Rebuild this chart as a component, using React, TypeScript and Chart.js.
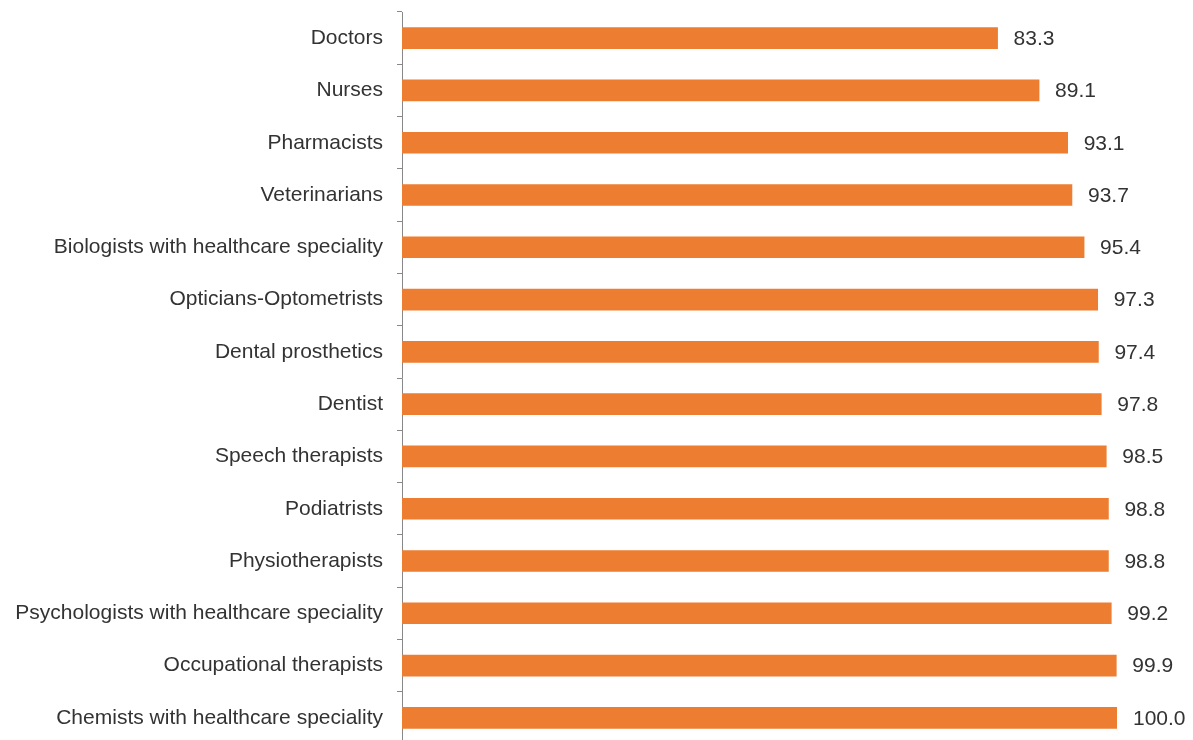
import React, { useEffect, useRef } from "react";
import { Chart, registerables } from "chart.js";

Chart.register(...registerables);

const categories: string[] = [
  "Doctors",
  "Nurses",
  "Pharmacists",
  "Veterinarians",
  "Biologists with healthcare speciality",
  "Opticians-Optometrists",
  "Dental prosthetics",
  "Dentist",
  "Speech therapists",
  "Podiatrists",
  "Physiotherapists",
  "Psychologists with healthcare speciality",
  "Occupational therapists",
  "Chemists with healthcare speciality",
];

const values: number[] = [
  83.3, 89.1, 93.1, 93.7, 95.4, 97.3, 97.4, 97.8, 98.5, 98.8, 98.8, 99.2, 99.9, 100.0,
];

const FONT = "'Liberation Sans', Arial, sans-serif";
const TEXT = "#333333";

const valueLabels = {
  id: "valueLabels",
  afterDatasetsDraw(chart: any) {
    const ctx = chart.ctx;
    const meta = chart.getDatasetMeta(0);
    ctx.save();
    ctx.font = `21px ${FONT}`;
    ctx.fillStyle = TEXT;
    ctx.textAlign = "left";
    ctx.textBaseline = "middle";
    meta.data.forEach((bar: any, i: number) => {
      ctx.fillText(values[i].toFixed(1), bar.x + 16, bar.y + 1);
    });
    ctx.restore();
  },
};

export default function App() {
  const ref = useRef<HTMLCanvasElement | null>(null);
  useEffect(() => {
    if (!ref.current) return;
    const chart = new Chart(ref.current, {
      type: "bar",
      data: {
        labels: categories,
        datasets: [
          {
            data: values,
            backgroundColor: "#ED7D31",
            borderWidth: 0,
            barThickness: 21,
          },
        ],
      },
      options: {
        indexAxis: "y",
        animation: false,
        responsive: false,
        maintainAspectRatio: false,
        layout: { padding: { top: 12, right: 76, bottom: 0, left: 0 } },
        plugins: { legend: { display: false }, tooltip: { enabled: false } },
        scales: {
          x: { display: false, min: 0, max: 100 },
          y: {
            afterFit: (s: any) => {
              s.width = 402;
              s.paddingTop = 0;
              s.paddingBottom = 0;
            },
            border: { display: true, color: "#888888", width: 1 },
            grid: {
              drawOnChartArea: false,
              drawTicks: true,
              tickLength: 5,
              color: "#888888",
              offset: true,
            },
            ticks: {
              color: TEXT,
              padding: 14,
              font: { family: FONT, size: 21 },
              autoSkip: false,
            },
          },
        },
      },
      plugins: [valueLabels],
    });
    return () => chart.destroy();
  }, []);
  return (
    <div style={{ position: "fixed", left: 0, top: 0, width: 1193, height: 744, background: "#fff" }}>
      <canvas ref={ref} width={1193} height={744} style={{ display: "block" }} />
    </div>
  );
}
